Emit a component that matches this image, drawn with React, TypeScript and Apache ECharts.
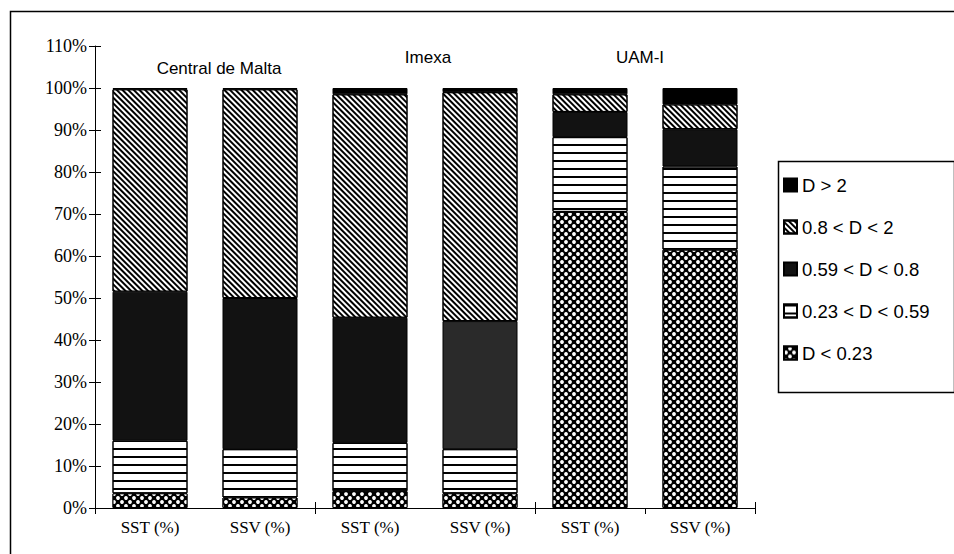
import React, { useEffect, useRef } from "react";
import * as echarts from "echarts";

const categories = ["SST (%)", "SSV (%)", "SST (%)", "SSV (%)", "SST (%)", "SSV (%)"];
const groupNames = ["Central de Malta", "Imexa", "UAM-I"];
const yMin = 0;
const yMax = 110;
const yStep = 10;

const seriesNames = ["D < 0.23", "0.23 < D < 0.59", "0.59 < D < 0.8", "0.8 < D < 2", "D > 2"];
const dBelow023 = [3.5, 2.5, 4.0, 3.5, 70.5, 61.5];
const d023to059 = [12.5, 11.5, 11.5, 10.5, 17.8, 19.8];
const d059to08 = [35.5, 36.0, 29.8, 30.5, 6.0, 8.9];
const d08to2 = [48.2, 49.7, 53.2, 54.5, 4.2, 5.9];
const dAbove2 = [0.3, 0.3, 1.5, 1.0, 1.5, 3.9];
const legendOrder = ["D > 2", "0.8 < D < 2", "0.59 < D < 0.8", "0.23 < D < 0.59", "D < 0.23"];

const SANS = "'Liberation Sans', Arial, sans-serif";
const SERIF = "'Liberation Serif', 'Times New Roman', serif";

export default function App() {
  const ref = useRef<HTMLDivElement>(null);
  useEffect(() => {
    if (!ref.current) return;
    const chart = echarts.init(ref.current, null, { renderer: "svg" });
    const border = { borderColor: "#000", borderWidth: 1 };
    const styles: any[] = [
      {
        color: "#000",
        ...border,
        decal: {
          symbol: "circle",
          color: "#fff",
          symbolSize: 0.95,
          dashArrayX: [[4, 4], [0, 4, 4, 0]],
          dashArrayY: [4, 0],
        },
      },
      {
        color: "#fff",
        ...border,
        decal: {
          symbol: "rect",
          color: "#000",
          symbolSize: 1,
          dashArrayX: [1, 0],
          dashArrayY: [2, 6],
        },
      },
      { color: "#121212", ...border },
      {
        color: "#fff",
        ...border,
        decal: {
          symbol: "rect",
          color: "#000",
          symbolSize: 1,
          dashArrayX: [1, 0],
          dashArrayY: [2, 2],
          rotation: Math.PI / 4,
        },
      },
      { color: "#000", ...border },
    ];
    const values = [dBelow023, d023to059, d059to08, d08to2, dAbove2];
    const series = seriesNames.map((name, i) => ({
      name,
      type: "bar",
      stack: "total",
      barWidth: 75,
      xAxisIndex: 0,
      yAxisIndex: 0,
      itemStyle: styles[i],
      emphasis: { disabled: true },
      data: values[i].map((v, j) =>
        i === 2 && j === 3 ? { value: v, itemStyle: { color: "#2a2a2a" } } : v
      ),
    }));

    const gridLeft = 95;
    const gridRight = 199;
    const groupX = [219, 428, 640];
    const groupY = [68, 57, 57];

    chart.setOption({
      animation: false,
      backgroundColor: "#fff",
      grid: { left: gridLeft, right: gridRight, top: 46, bottom: 46, containLabel: false },
      xAxis: [
        {
          type: "category",
          data: categories,
          position: "bottom",
          axisLine: { lineStyle: { color: "#000", width: 1 } },
          axisTick: { show: true, interval: 1, length: 6, lineStyle: { color: "#000" } },
          axisLabel: { color: "#000", fontFamily: SERIF, fontSize: 17, margin: 11, interval: 0 },
        },
        {
          type: "category",
          data: categories,
          position: "bottom",
          axisLine: { show: false },
          axisTick: { show: true, inside: true, interval: 1, length: 6, lineStyle: { color: "#000" } },
          axisLabel: { show: false },
        },
      ],
      yAxis: [
        {
          type: "value",
          position: "left",
          min: yMin,
          max: yMax,
          interval: yStep,
          axisLine: { show: true, lineStyle: { color: "#000", width: 1 } },
          axisTick: { show: true, length: 6, lineStyle: { color: "#000" } },
          axisLabel: { color: "#000", fontFamily: SERIF, fontSize: 18, margin: 8, formatter: "{value}%" },
          splitLine: { show: false },
        },
        {
          type: "value",
          position: "left",
          min: yMin,
          max: yMax,
          interval: yStep,
          axisLine: { show: false },
          axisTick: { show: true, inside: true, length: 6, lineStyle: { color: "#000" } },
          axisLabel: { show: false },
          splitLine: { show: false },
        },
      ],
      legend: {
        data: legendOrder,
        orient: "vertical",
        left: 783,
        top: 175,
        padding: 0,
        itemGap: 22,
        itemWidth: 13,
        itemHeight: 13,
        icon: "rect",
        selectedMode: false,
        textStyle: { color: "#000", fontFamily: SANS, fontSize: 18.5, lineHeight: 20 },
      },
      graphic: [
        {
          type: "rect",
          left: 8,
          top: 9,
          shape: { width: 945, height: 560 },
          style: { fill: "none", stroke: "#000", lineWidth: 1.5 },
          silent: true,
        },
        {
          type: "rect",
          left: 776,
          top: 159,
          shape: { width: 176, height: 231 },
          style: { fill: "none", stroke: "#000", lineWidth: 1.5 },
          silent: true,
        },
        ...groupNames.map((g, i) => ({
          type: "text",
          x: groupX[i],
          y: groupY[i],
          style: {
            text: g,
            fill: "#000",
            font: `17px ${SANS}`,
            textAlign: "center",
            textVerticalAlign: "middle",
          },
          silent: true,
        })),
      ],
      series,
    });
    return () => chart.dispose();
  }, []);
  return (
    <div
      ref={ref}
      style={{ position: "fixed", left: 0, top: 0, width: 954, height: 554, background: "#fff" }}
    />
  );
}
